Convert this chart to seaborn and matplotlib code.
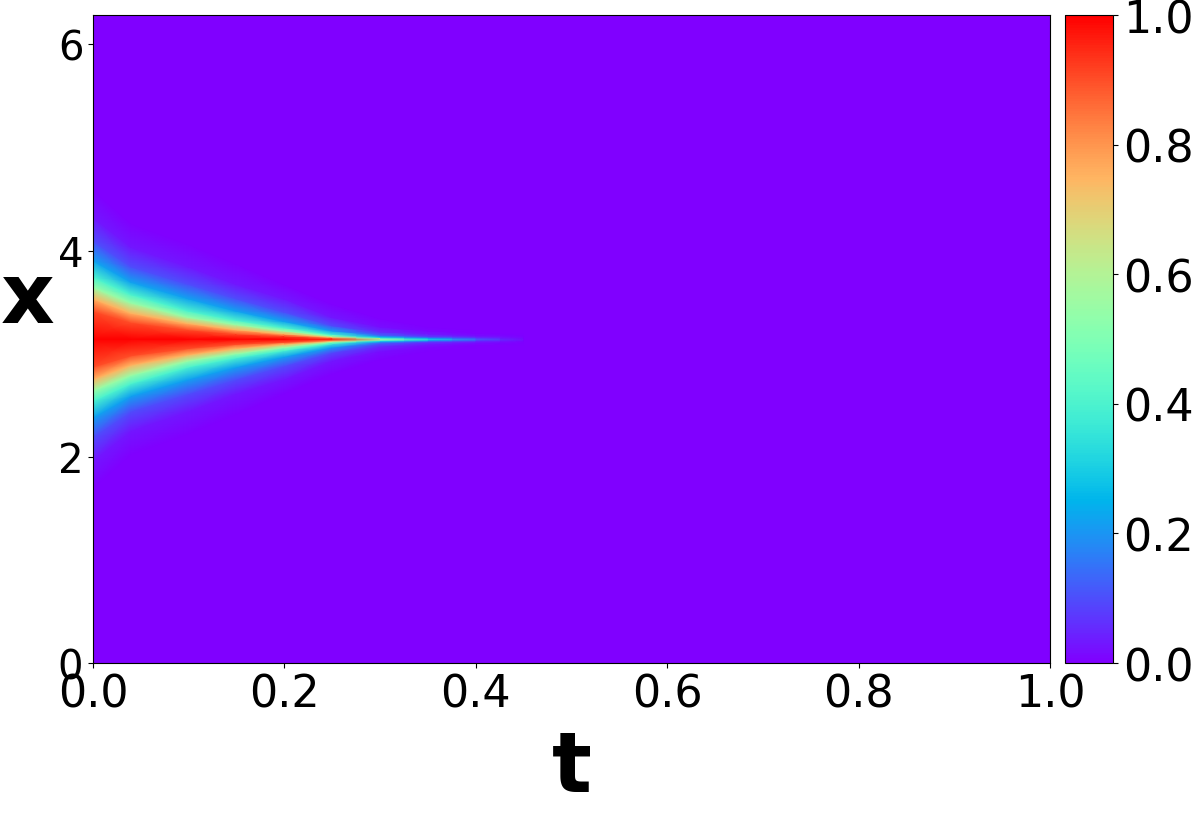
import numpy as np
import matplotlib
matplotlib.use("Agg")
import matplotlib.pyplot as plt
import seaborn as sns

#%%
# valores: columnas en t, pico de u y semi-anchos en x
# (distancia a x = pi) donde u cae a cada fraccion del pico
t_cols = [0.0, 0.04, 0.1, 0.15, 0.2, 0.25, 0.3, 0.35, 0.4, 0.45, 1.0]
peak_u = [1.0, 1.0, 1.0, 1.0, 1.0, 0.95, 0.55, 0.3, 0.12, 0.0, 0.0]
level_frac = [0.9, 0.75, 0.55, 0.4, 0.22, 0.1, 0.03, 0.0]
half_width = [
    [0.27, 0.39, 0.50, 0.60, 0.76, 0.95, 1.18, 1.45],
    [0.16, 0.25, 0.35, 0.43, 0.55, 0.70, 0.89, 1.12],
    [0.09, 0.15, 0.21, 0.27, 0.39, 0.53, 0.70, 0.92],
    [0.05, 0.09, 0.14, 0.18, 0.27, 0.39, 0.53, 0.73],
    [0.03, 0.05, 0.08, 0.11, 0.17, 0.26, 0.39, 0.53],
    [0.012, 0.02, 0.03, 0.045, 0.08, 0.13, 0.21, 0.34],
    [0.008, 0.012, 0.018, 0.025, 0.04, 0.07, 0.12, 0.20],
    [0.006, 0.01, 0.015, 0.02, 0.03, 0.05, 0.08, 0.12],
    [0.006, 0.01, 0.015, 0.02, 0.03, 0.04, 0.06, 0.09],
    [0.006, 0.01, 0.015, 0.02, 0.03, 0.04, 0.06, 0.09],
    [0.006, 0.01, 0.015, 0.02, 0.03, 0.04, 0.06, 0.09],
]
x_min, x_max = 0.0, 2 * np.pi
x_ticks = [0, 2, 4, 6]

#%%
# malla curvilinea (x depende de t) a partir de la tabla
cols_x, cols_u = [], []
for pk, w in zip(peak_u, half_width):
    xs = [x_min] + [np.pi - d for d in w[::-1]] + [np.pi] + [np.pi + d for d in w] + [x_max]
    us = [0.0] + [pk * f for f in level_frac[::-1]] + [pk] + [pk * f for f in level_frac] + [0.0]
    cols_x.append(xs)
    cols_u.append(us)

X = np.array(cols_x).T
U = np.array(cols_u).T
T = np.tile(np.array(t_cols), (X.shape[0], 1))

#%%
sns.set_style("ticks")
plt.rcParams["font.family"] = ["DejaVu Sans"]
plt.rcParams["xtick.major.size"] = 3.5
plt.rcParams["ytick.major.size"] = 3.5
for k in ["text.color", "axes.labelcolor", "xtick.color", "ytick.color", "axes.edgecolor"]:
    plt.rcParams[k] = "black"

fig = plt.figure(figsize=(11.96, 8.2), dpi=100)
ax = fig.add_axes([0.0778, 0.1902, 0.8002, 0.7902])
cax = fig.add_axes([0.8905, 0.1902, 0.0401, 0.7902])

mesh = ax.pcolormesh(T, X, U, shading="gouraud", cmap="rainbow", vmin=0, vmax=1)
ax.set_xlim(0, 1)
ax.set_ylim(x_min, x_max)
ax.set_yticks(x_ticks)

ax.set_xlabel("t", fontsize=60, fontweight="bold")
ax.set_ylabel("x", fontsize=60, fontweight="bold", rotation=0)
ax.xaxis.set_label_coords(0.5, -0.099)
ax.yaxis.set_label_coords(-0.068, 0.5)
ax.tick_params(axis="x", labelsize=32)
ax.tick_params(axis="y", labelsize=29)

cb = fig.colorbar(mesh, cax=cax)
cb.ax.tick_params(labelsize=32)

fig.savefig("out.png", dpi=100)
